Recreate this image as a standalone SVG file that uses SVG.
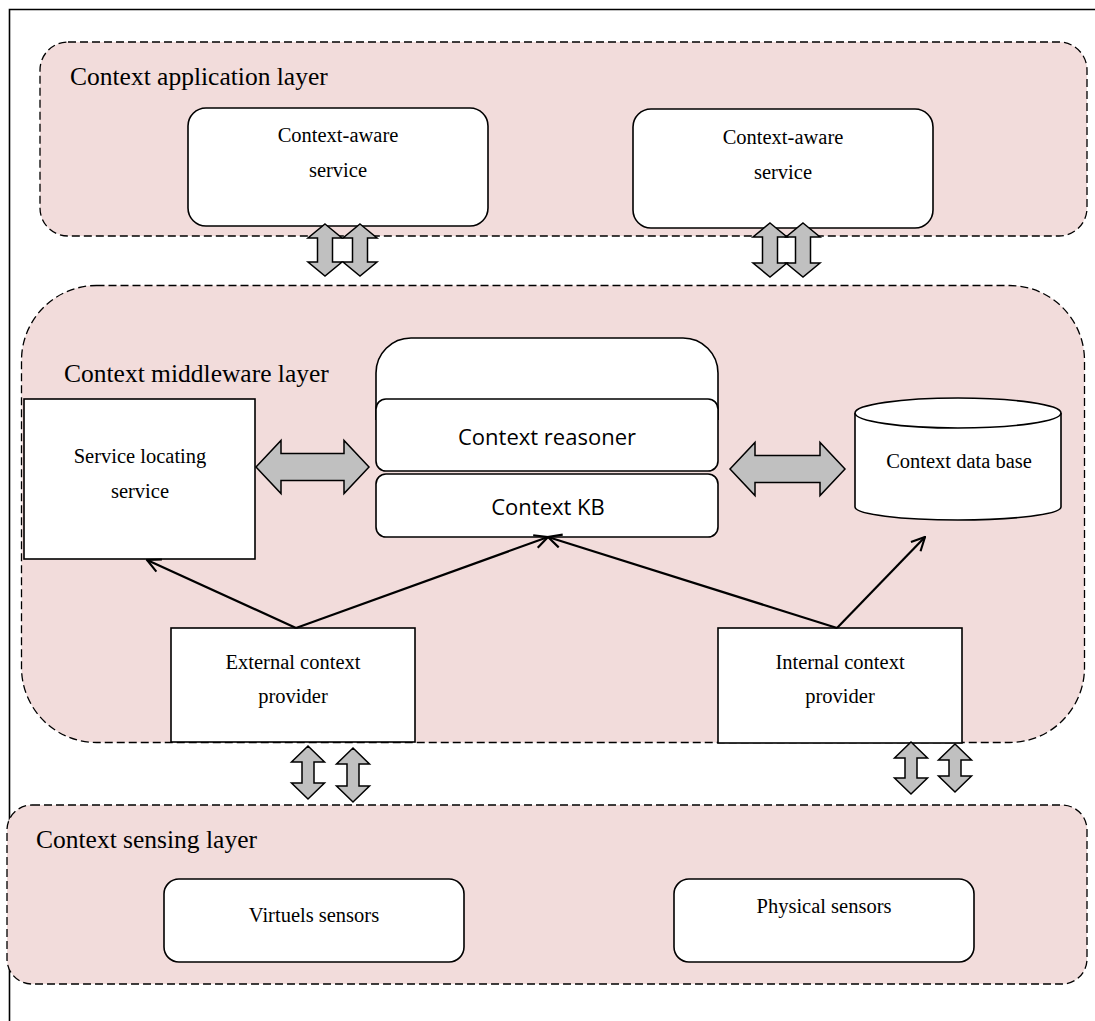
<svg xmlns="http://www.w3.org/2000/svg" width="1095" height="1021" viewBox="0 0 1095 1021">
<defs>
<style>
.layer{fill:#F2DCDB;stroke:#000;stroke-width:1.3;stroke-dasharray:8 4}
.box{fill:#fff;stroke:#000;stroke-width:1.6}
.big{fill:#C0C0C0;stroke:#000;stroke-width:1.5;stroke-linejoin:miter}
.conn{fill:none;stroke:#000;stroke-width:2.2}
.title{font-family:"Liberation Serif","Times New Roman",serif;font-size:25.5px;fill:#000}
.lbl{font-family:"Liberation Serif","Times New Roman",serif;font-size:20.5px;fill:#000;text-anchor:middle}
.sans{font-family:"Open Sans","Liberation Sans",sans-serif;font-size:22px;fill:#000;text-anchor:middle}
</style>
<marker id="open" viewBox="0 0 12 12" refX="11" refY="6" markerWidth="16" markerHeight="16" markerUnits="userSpaceOnUse" orient="auto">
<path d="M1,1 L11,6 L1,11" fill="none" stroke="#000" stroke-width="1.6"/>
</marker>
</defs>
<rect width="1095" height="1021" fill="#fff"/>
<g id="frame"><path d="M9.5,1021 V9.5 H1095" fill="none" stroke="#000" stroke-width="1.6"/></g>

<g id="application-layer">
<rect class="layer" x="40" y="42" width="1047" height="194" rx="28"/>
<text class="title" x="70" y="85">Context application layer</text>
</g>
<g id="middleware-layer">
<rect class="layer" x="21.5" y="285.5" width="1063" height="457" rx="75"/>
<text class="title" x="64" y="382">Context middleware layer</text>
</g>
<g id="sensing-layer">
<rect class="layer" x="7" y="805" width="1080" height="179" rx="25"/>
<text class="title" x="36" y="848">Context sensing layer</text>
</g>

<g id="cas1">
<rect class="box" x="188" y="108" width="300" height="118" rx="18"/>
<text class="lbl" x="338" y="142">Context-aware</text>
<text class="lbl" x="338" y="177">service</text>
</g>
<g id="cas2">
<rect class="box" x="633" y="109" width="300" height="119" rx="18"/>
<text class="lbl" x="783" y="144">Context-aware</text>
<text class="lbl" x="783" y="179">service</text>
</g>

<g id="service-locating">
<rect class="box" x="24" y="399" width="231" height="160"/>
<text class="lbl" x="140" y="463">Service locating</text>
<text class="lbl" x="140" y="498">service</text>
</g>

<g id="context-engine">
<path class="box" d="M376,420 V373 A35,35 0 0 1 411,338 H683 A35,35 0 0 1 718,373 V420"/>
<rect class="box" x="376" y="399" width="342" height="72" rx="10"/>
<text class="sans" x="547" y="445">Context reasoner</text>
<rect class="box" x="376" y="474" width="342" height="63" rx="10"/>
<text class="sans" x="548" y="515">Context KB</text>
</g>

<g id="context-db">
<path class="box" d="M855,413 V507 A103,13 0 0 0 1061,507 V413"/>
<ellipse class="box" cx="958" cy="413" rx="103" ry="15"/>
<text class="lbl" x="959" y="468">Context data base</text>
</g>

<g id="external-provider">
<rect class="box" x="171" y="628" width="244" height="114"/>
<text class="lbl" x="293" y="669">External context</text>
<text class="lbl" x="293" y="703">provider</text>
</g>
<g id="internal-provider">
<rect class="box" x="718" y="628" width="244" height="115"/>
<text class="lbl" x="840" y="669">Internal context</text>
<text class="lbl" x="840" y="703">provider</text>
</g>

<g id="virtual-sensors">
<rect class="box" x="164" y="879" width="300" height="83" rx="15"/>
<text class="lbl" x="314" y="922">Virtuels sensors</text>
</g>
<g id="physical-sensors">
<rect class="box" x="674" y="879" width="300" height="83" rx="15"/>
<text class="lbl" x="824" y="913">Physical sensors</text>
</g>

<g id="connectors">
<!-- app layer <-> middleware -->
<polygon class="big" points="325,224 342,238 332.5,238 332.5,262 342,262 325,276 308,262 317.5,262 317.5,238 308,238"/>
<polygon class="big" points="360,224 377,238 367.5,238 367.5,262 377,262 360,276 343,262 352.5,262 352.5,238 343,238"/>
<polygon class="big" points="770,223 787,237 777.5,237 777.5,263 787,263 770,277 753,263 762.5,263 762.5,237 753,237"/>
<polygon class="big" points="803,223 820,237 810.5,237 810.5,263 820,263 803,277 786,263 795.5,263 795.5,237 786,237"/>
<!-- horizontal -->
<polygon class="big" points="256,467 281,440.5 281,453.5 344,453.5 344,440.5 369,467 344,493.5 344,480.5 281,480.5 281,493.5"/>
<polygon class="big" points="730,469 755,442.5 755,455.5 820,455.5 820,442.5 845,469 820,495.5 820,482.5 755,482.5 755,495.5"/>
<!-- middleware <-> sensing -->
<polygon class="big" points="308,746 324.5,762 314,762 314,783 324.5,783 308,799 291.5,783 302,783 302,762 291.5,762"/>
<polygon class="big" points="353,748 369.5,764 359,764 359,786 369.5,786 353,802 336.5,786 347,786 347,764 336.5,764"/>
<polygon class="big" points="911,742 927.5,758 917,758 917,778 927.5,778 911,794 894.5,778 905,778 905,758 894.5,758"/>
<polygon class="big" points="955,744 971.5,760 961,760 961,776 971.5,776 955,792 938.5,776 949,776 949,760 938.5,760"/>
<!-- diagonal arrows -->
<line class="conn" x1="296" y1="628" x2="147" y2="560" marker-end="url(#open)"/>
<line class="conn" x1="296" y1="628" x2="548" y2="537" marker-end="url(#open)"/>
<line class="conn" x1="837" y1="628" x2="548" y2="537" marker-end="url(#open)"/>
<line class="conn" x1="837" y1="628" x2="925" y2="537" marker-end="url(#open)"/>
</g>
</svg>
